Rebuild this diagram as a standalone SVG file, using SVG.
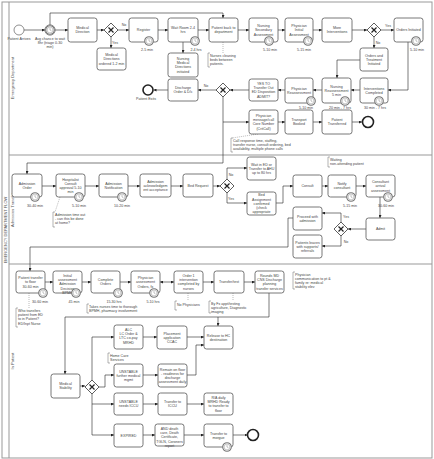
<svg xmlns="http://www.w3.org/2000/svg" width="434" height="459" viewBox="0 0 434 459">
<style>
.tk{fill:#fff;stroke:#555;stroke-width:0.8}
.t{font-family:"Liberation Sans",Arial,sans-serif;font-size:3.6px;fill:#444;text-anchor:middle}
.a{font-family:"Liberation Sans",Arial,sans-serif;font-size:3.6px;fill:#444;text-anchor:start}
.ln{font-family:"Liberation Sans",Arial,sans-serif;font-size:4px;fill:#555;text-anchor:middle}
.c{fill:none;stroke:#222;stroke-width:0.6;marker-end:url(#ar)}
.as{fill:none;stroke:#777;stroke-width:0.5;stroke-dasharray:1,1}
.br{fill:none;stroke:#666;stroke-width:0.5}
.gw{fill:#fff;stroke:#333;stroke-width:0.8}
.gx{stroke:#222;stroke-width:1.2}
.lane{fill:none;stroke:#999;stroke-width:1}
</style>
<defs>
<marker id="ar" viewBox="0 0 6 6" refX="6" refY="3" markerWidth="3" markerHeight="3" orient="auto" markerUnits="userSpaceOnUse"><path d="M0,0L6,3L0,6z" fill="#222"/></marker>
<marker id="as" viewBox="0 0 6 6" refX="0" refY="3" markerWidth="3" markerHeight="3" orient="auto" markerUnits="userSpaceOnUse"><path d="M6,0L0,3L6,6z" fill="#222"/></marker>
<g id="tm"><circle r="4.3" fill="#fff" stroke="#777" stroke-width="1.1"/><circle r="2.9" fill="none" stroke="#777" stroke-width="0.4"/><path d="M0,-2V0L1.4,0.7" fill="none" stroke="#666" stroke-width="0.4"/></g>
</defs>
<rect width="434" height="459" fill="#fff"/>
<g id="pool">
<rect x="2" y="2" width="430" height="456" class="lane"/>
<line x1="9" y1="2" x2="9" y2="458" class="lane"/>
<line x1="9" y1="155" x2="432" y2="155" class="lane"/>
<line x1="9" y1="264" x2="432" y2="264" class="lane"/>
<text class="ln" transform="translate(7,230) rotate(-90)">EMERGENCY DEPARTMENT FLOW</text>
<text class="ln" transform="translate(14,78) rotate(-90)">Emergency Department</text>
<text class="ln" transform="translate(14,210) rotate(-90)">Admission Transfer</text>
<text class="ln" transform="translate(14,361) rotate(-90)">In Patient</text>
</g>
<g id="connectors">
<path class="c" d="M24,30H45"/>
<path class="c" d="M55,30H68"/>
<path class="c" d="M50,25V13H223V18"/>
<path class="c" d="M97,30H104"/>
<path class="c" d="M118,30H129"/>
<path class="c" d="M111,37V48"/>
<path class="c" d="M158,30H168"/>
<path class="c" d="M198,30H209"/>
<path class="c" d="M183,42V53"/>
<path class="c" d="M238,30H249"/>
<path class="c" d="M278,30H285"/>
<path class="c" d="M313,30H322"/>
<path class="c" d="M352,30H367"/>
<path class="c" d="M381,30H394"/>
<path class="c" d="M374,37V48"/>
<path class="c" d="M360,60H337V78"/>
<path class="c" d="M408,42V90H388"/>
<path class="c" d="M360,90H351"/>
<path class="c" d="M322,90H313"/>
<path class="c" d="M285,90H278"/>
<path class="c" d="M249,90H230"/>
<path class="c" d="M216,90H198"/>
<path class="c" d="M168,90H153.5"/>
<path class="c" d="M223,97V122H249"/>
<path class="c" d="M223,122V163H27V174"/>
<path class="c" d="M278,122H285"/>
<path class="c" d="M313,122H322"/>
<path class="c" d="M352,122H362"/>
<path class="c" d="M42,186H56"/>
<path class="c" d="M85,186H99"/>
<path class="c" d="M128,186H140"/>
<path class="c" d="M171,186H183"/>
<path class="c" d="M213,186H220"/>
<path class="c" d="M227,179V168H247"/>
<path class="c" d="M227,193V203H247"/>
<path class="c" d="M276,203H283V186H293"/>
<path class="c" d="M322,186H328"/>
<path class="c" d="M356,186H366"/>
<path class="c" d="M380,197V218"/>
<path class="c" d="M366,229H348"/>
<path class="c" d="M341,222V213H322"/>
<path class="c" d="M341,236V246H322"/>
<path class="c" d="M293,218H288V247H30V271"/>
<path class="c" d="M45,282H53"/>
<path class="c" d="M82,282H91"/>
<path class="c" d="M120,282H131"/>
<path class="c" d="M160,282H174" style="marker-start:url(#as)"/>
<path class="c" d="M203,282H214"/>
<path class="c" d="M244,282H255"/>
<path class="c" d="M269,293V317H65V374"/>
<path class="c" d="M218,317V326"/>
<path class="c" d="M92,380V337H114"/>
<path class="c" d="M143,337H157"/>
<path class="c" d="M187,337H204"/>
<path class="c" d="M80,386H85"/>
<path class="c" d="M99,387H105V375H114"/>
<path class="c" d="M92,394V435H114"/>
<path class="c" d="M92,404H114"/>
<path class="c" d="M143,375H158"/>
<path class="c" d="M187,375H196V345H204"/>
<path class="c" d="M143,404H158"/>
<path class="c" d="M187,404H204"/>
<path class="c" d="M143,435H155"/>
<path class="c" d="M184,435H204"/>
<path class="c" d="M233,435H247.5"/>
<path class="as" d="M223,42V53"/>
<path class="as" d="M60,197L55,212"/>
<path class="as" d="M29,293V308"/>
<path class="as" d="M188,293V301"/>
<path class="as" d="M233,293V301"/>
<path class="as" d="M258,134L232,138"/>
<text class="t" x="124" y="26">No</text>
<text class="t" x="115" y="44">Yes</text>
<text class="t" x="388" y="27">Yes</text>
<text class="t" x="378" y="44">No</text>
<text class="t" x="206" y="87">No</text>
<text class="t" x="231" y="176">No</text>
<text class="t" x="231" y="200">Yes</text>
<text class="t" x="346" y="218">Yes</text>
<text class="t" x="346" y="243">No</text>
</g>
<g id="patient-arrives"><circle cx="19" cy="30" r="5" fill="#fff" stroke="#444" stroke-width="0.6"/><text class="t" x="19" y="39.5">Patient Arrives</text></g>
<g id="wait-timer"><circle cx="50" cy="30" r="5.2" fill="#fff" stroke="#444" stroke-width="0.6"/><use href="#tm" x="50" y="30"/><text class="t" x="50" y="39.5"><tspan x="50">Avg chance to wait</tspan><tspan x="50" dy="4">8hr (triage 0-30</tspan><tspan x="50" dy="4">min)</tspan></text></g>
<g id="medical-direction"><rect class="tk" x="68" y="18" width="29" height="24" rx="2.5"/><text class="t" x="82.5" y="29.2"><tspan x="82.5">Medical</tspan><tspan x="82.5" dy="4.2">Direction</tspan></text></g>
<g id="gw1"><polygon class="gw" points="111,23 118,30 111,37 104,30"/><path class="gx" d="M108.5,27.5l5,5M113.5,27.5l-5,5"/></g>
<g id="md-ordered"><rect class="tk" x="97" y="48" width="29" height="22" rx="2.5"/><text class="t" x="111.5" y="56.1"><tspan x="111.5">Medical</tspan><tspan x="111.5" dy="4.2">Directions</tspan><tspan x="111.5" dy="4.2">ordered 1-2 min</tspan></text></g>
<g id="register"><rect class="tk" x="129" y="18" width="29" height="24" rx="2.5"/><text class="t" x="143.5" y="31.3">Register</text><use href="#tm" x="149" y="41"/><text class="t" x="147" y="50.5">2-5 min</text></g>
<g id="wait-room"><rect class="tk" x="168" y="18" width="30" height="24" rx="2.5"/><text class="t" x="183" y="29.2"><tspan x="183">Wait Room 2-4</tspan><tspan x="183" dy="4.2">hrs</tspan></text><use href="#tm" x="195" y="41"/><text class="t" x="196" y="50.5">2-4 hrs</text></g>
<g id="patient-back"><rect class="tk" x="209" y="18" width="29" height="24" rx="2.5"/><text class="t" x="223.5" y="29.2"><tspan x="223.5">Patient back to</tspan><tspan x="223.5" dy="4.2">department</tspan></text></g>
<g id="nursing-secondary"><rect class="tk" x="249" y="18" width="29" height="24" rx="2.5"/><text class="t" x="263.5" y="27.1"><tspan x="263.5">Nursing</tspan><tspan x="263.5" dy="4.2">Secondary</tspan><tspan x="263.5" dy="4.2">Assessment</tspan></text><use href="#tm" x="269" y="41"/><text class="t" x="270" y="50.5">5-10 min</text></g>
<g id="physician-initial"><rect class="tk" x="285" y="18" width="28" height="24" rx="2.5"/><text class="t" x="299" y="27.1"><tspan x="299">Physician</tspan><tspan x="299" dy="4.2">Initial</tspan><tspan x="299" dy="4.2">Assessment</tspan></text><use href="#tm" x="308" y="41"/><text class="t" x="304" y="50.5">5-15 min</text></g>
<g id="more-interventions"><rect class="tk" x="322" y="18" width="30" height="24" rx="2.5"/><text class="t" x="337" y="29.2"><tspan x="337">More</tspan><tspan x="337" dy="4.2">Interventions</tspan></text></g>
<g id="gw2"><polygon class="gw" points="374,23 381,30 374,37 367,30"/><path class="gx" d="M371.5,27.5l5,5M376.5,27.5l-5,5"/></g>
<g id="orders-initiated"><rect class="tk" x="394" y="18" width="29" height="24" rx="2.5"/><text class="t" x="408.5" y="31.3">Orders Initiated</text><use href="#tm" x="416" y="41"/><text class="t" x="417" y="50.5">5-10 min</text></g>
<g id="orders-treatment"><rect class="tk" x="360" y="48" width="28" height="23" rx="2.5"/><text class="t" x="374" y="56.6"><tspan x="374">Orders and</tspan><tspan x="374" dy="4.2">Treatment</tspan><tspan x="374" dy="4.2">Initiated</tspan></text></g>
<g id="interventions-completed"><rect class="tk" x="360" y="78" width="28" height="25" rx="2.5"/><text class="t" x="374" y="89.7"><tspan x="374">Interventions</tspan><tspan x="374" dy="4.2">Completed</tspan></text><use href="#tm" x="379" y="101"/><text class="t" x="375" y="109">30 min - 7 hrs</text></g>
<g id="nursing-reassessment"><rect class="tk" x="322" y="78" width="29" height="25" rx="2.5"/><text class="t" x="336.5" y="87.6"><tspan x="336.5">Nursing</tspan><tspan x="336.5" dy="4.2">Reassessment</tspan><tspan x="336.5" dy="4.2">5 min</tspan></text><use href="#tm" x="345" y="101"/><text class="t" x="340" y="109">20 min - 7 hrs</text></g>
<g id="physician-reassessment"><rect class="tk" x="285" y="78" width="28" height="25" rx="2.5"/><text class="t" x="299" y="89.7"><tspan x="299">Physician</tspan><tspan x="299" dy="4.2">Reassessment</tspan></text><use href="#tm" x="311" y="101"/><text class="t" x="306" y="109">5-10 min</text></g>
<g id="yes-to-transfer"><rect class="tk" x="249" y="79" width="29" height="22" rx="2.5"/><text class="t" x="263.5" y="85"><tspan x="263.5">YES TO</tspan><tspan x="263.5" dy="4.2">Transfer Out</tspan><tspan x="263.5" dy="4.2">ED Disposition</tspan><tspan x="263.5" dy="4.2">ADMIT?</tspan></text></g>
<g id="gw3"><polygon class="gw" points="223,83 230,90 223,97 216,90"/><path class="gx" d="M220.5,87.5l5,5M225.5,87.5l-5,5"/></g>
<g id="discharge"><rect class="tk" x="168" y="79" width="30" height="22" rx="2.5"/><text class="t" x="183" y="89.2"><tspan x="183">Discharge</tspan><tspan x="183" dy="4.2">Order &amp; D/c</tspan></text></g>
<g id="patient-exits"><circle cx="148" cy="90" r="5" fill="#fff" stroke="#222" stroke-width="1.6"/><text class="t" x="146" y="100">Patient Exits</text></g>
<g id="nursing-md"><rect class="tk" x="168" y="53" width="30" height="24" rx="2.5"/><text class="t" x="183" y="60"><tspan x="183">Nursing</tspan><tspan x="183" dy="4.2">Medical</tspan><tspan x="183" dy="4.2">Directions</tspan><tspan x="183" dy="4.2">initiated</tspan></text></g>
<g id="note-cleaning"><path class="br" d="M210,53H208V67H210"/><text class="a" x="210" y="57"><tspan x="210">Nurses cleaning</tspan><tspan x="210" dy="4.2">beds between</tspan><tspan x="210" dy="4.2">patients.</tspan></text></g>
<g id="physician-message"><rect class="tk" x="249" y="110" width="29" height="24" rx="2.5"/><text class="t" x="263.5" y="117"><tspan x="263.5">Physician</tspan><tspan x="263.5" dy="4.2">message/call</tspan><tspan x="263.5" dy="4.2">Core Number</tspan><tspan x="263.5" dy="4.2">(CritCall)</tspan></text></g>
<g id="transport-booked"><rect class="tk" x="285" y="110" width="28" height="24" rx="2.5"/><text class="t" x="299" y="121.2"><tspan x="299">Transport</tspan><tspan x="299" dy="4.2">Booked</tspan></text></g>
<g id="patient-transferred"><rect class="tk" x="322" y="110" width="30" height="24" rx="2.5"/><text class="t" x="337" y="121.2"><tspan x="337">Patient</tspan><tspan x="337" dy="4.2">Transferred</tspan></text></g>
<g id="end-transferred"><circle cx="368" cy="122" r="5.5" fill="#fff" stroke="#222" stroke-width="1.6"/></g>
<g id="note-call"><path class="br" d="M233,138H231V152H233"/><text class="a" x="233" y="141.5"><tspan x="233">Call response time, staffing,</tspan><tspan x="233" dy="4.2">transfer nurse, consult ordering, bed</tspan><tspan x="233" dy="4.2">availability, multiple phone calls</tspan></text></g>
<g id="admission-order"><rect class="tk" x="12" y="174" width="30" height="23" rx="2.5"/><text class="t" x="27" y="184.7"><tspan x="27">Admission</tspan><tspan x="27" dy="4.2">Order</tspan></text><use href="#tm" x="35" y="197"/><text class="t" x="35" y="207">30-40 min</text></g>
<g id="admission-consult"><rect class="tk" x="56" y="174" width="29" height="23" rx="2.5"/><text class="t" x="70.5" y="180.5"><tspan x="70.5">Hospitalist</tspan><tspan x="70.5" dy="4.2">Consult</tspan><tspan x="70.5" dy="4.2">approval 5-10</tspan><tspan x="70.5" dy="4.2">min</tspan></text><use href="#tm" x="79" y="197"/><text class="t" x="79" y="207">5-10 min</text></g>
<g id="note-timeout"><path class="br" d="M55,212H53V227H55"/><text class="a" x="55" y="216"><tspan x="55">Admission time out</tspan><tspan x="55" dy="4.2">- can this be done</tspan><tspan x="55" dy="4.2">at home?</tspan></text></g>
<g id="admission-notification"><rect class="tk" x="99" y="174" width="29" height="23" rx="2.5"/><text class="t" x="113.5" y="184.7"><tspan x="113.5">Admission</tspan><tspan x="113.5" dy="4.2">Notification</tspan></text><use href="#tm" x="122" y="197"/><text class="t" x="122" y="207">10-20 min</text></g>
<g id="admission-ack"><rect class="tk" x="140" y="174" width="31" height="23" rx="2.5"/><text class="t" x="155.5" y="182.6"><tspan x="155.5">Admission</tspan><tspan x="155.5" dy="4.2">acknowledgem</tspan><tspan x="155.5" dy="4.2">ent acceptance</tspan></text></g>
<g id="bed-request"><rect class="tk" x="183" y="174" width="30" height="23" rx="2.5"/><text class="t" x="198" y="186.8">Bed Request</text></g>
<g id="gw4"><polygon class="gw" points="227,179 234,186 227,193 220,186"/><path class="gx" d="M224.5,183.5l5,5M229.5,183.5l-5,5"/></g>
<g id="wait-ed"><rect class="tk" x="247" y="157" width="29" height="23" rx="2.5"/><text class="t" x="261.5" y="165.6"><tspan x="261.5">Wait in ED or</tspan><tspan x="261.5" dy="4.2">Transfer to AHU</tspan><tspan x="261.5" dy="4.2">up to 80 hrs</tspan></text></g>
<g id="bed-assignment"><rect class="tk" x="247" y="192" width="29" height="23" rx="2.5"/><text class="t" x="261.5" y="196.4"><tspan x="261.5">Bed</tspan><tspan x="261.5" dy="4.2">Assignment</tspan><tspan x="261.5" dy="4.2">confirmed</tspan><tspan x="261.5" dy="4.2">(check</tspan><tspan x="261.5" dy="4.2">appropriate</tspan></text></g>
<g id="consult"><rect class="tk" x="293" y="175" width="29" height="22" rx="2.5"/><text class="t" x="307.5" y="187.3">Consult</text></g>
<g id="notify-consultant"><rect class="tk" x="328" y="175" width="28" height="22" rx="2.5"/><text class="t" x="342" y="185.2"><tspan x="342">Notify</tspan><tspan x="342" dy="4.2">consultant</tspan></text><use href="#tm" x="351" y="197"/><text class="t" x="350" y="207">5-15 min</text></g>
<g id="note-waiting"><path class="br" d="M330,157H328V167H330"/><text class="a" x="330" y="161"><tspan x="330">Waiting</tspan><tspan x="330" dy="4.2">non-attending patient</tspan></text></g>
<g id="consultant-arrival"><rect class="tk" x="366" y="175" width="29" height="22" rx="2.5"/><text class="t" x="380.5" y="183.1"><tspan x="380.5">Consultant</tspan><tspan x="380.5" dy="4.2">arrival</tspan><tspan x="380.5" dy="4.2">assessment</tspan></text><use href="#tm" x="388" y="197"/><text class="t" x="386" y="207">30-60 min</text></g>
<g id="admit"><rect class="tk" x="366" y="218" width="29" height="22" rx="2.5"/><text class="t" x="380.5" y="230.3">Admit</text></g>
<g id="gw5"><polygon class="gw" points="341,222 348,229 341,236 334,229"/><path class="gx" d="M338.5,226.5l5,5M343.5,226.5l-5,5"/></g>
<g id="proceed-admission"><rect class="tk" x="293" y="207" width="29" height="23" rx="2.5"/><text class="t" x="307.5" y="217.7"><tspan x="307.5">Proceed with</tspan><tspan x="307.5" dy="4.2">admission</tspan></text></g>
<g id="patient-leaves"><rect class="tk" x="293" y="235" width="29" height="23" rx="2.5"/><text class="t" x="307.5" y="243.6"><tspan x="307.5">Patients leaves</tspan><tspan x="307.5" dy="4.2">with supports/</tspan><tspan x="307.5" dy="4.2">referrals</tspan></text></g>
<g id="transfer-floor"><rect class="tk" x="16" y="271" width="29" height="22" rx="2.5"/><text class="t" x="30.5" y="279.1"><tspan x="30.5">Patient transfer</tspan><tspan x="30.5" dy="4.2">to floor</tspan><tspan x="30.5" dy="4.2">30-60 min</tspan></text><use href="#tm" x="43" y="293"/><text class="t" x="40" y="303">30-60 min</text></g>
<g id="note-who"><path class="br" d="M18,308H16V327H18"/><text class="a" x="18" y="312"><tspan x="18">Who transfers</tspan><tspan x="18" dy="4.2">patient from ED</tspan><tspan x="18" dy="4.2">to in Patient?</tspan><tspan x="18" dy="4.2">ED/Inpt Nurse</tspan></text></g>
<g id="initial-assessment"><rect class="tk" x="53" y="271" width="29" height="22" rx="2.5"/><text class="t" x="67.5" y="277"><tspan x="67.5">Initial</tspan><tspan x="67.5" dy="4.2">assessment</tspan><tspan x="67.5" dy="4.2">Admission</tspan><tspan x="67.5" dy="4.2">Decision</tspan><tspan x="67.5" dy="4.2">BPMH</tspan></text><use href="#tm" x="76" y="293"/><text class="t" x="74" y="303">45 min</text></g>
<g id="complete-orders"><rect class="tk" x="91" y="271" width="29" height="22" rx="2.5"/><text class="t" x="105.5" y="281.2"><tspan x="105.5">Complete</tspan><tspan x="105.5" dy="4.2">Orders</tspan></text><use href="#tm" x="118" y="293"/><text class="t" x="114" y="303">15-30 hrs</text></g>
<g id="note-takes"><path class="br" d="M89,304H87V313H89"/><text class="a" x="89" y="307.5"><tspan x="89">Takes nurses time to thorough</tspan><tspan x="89" dy="4.2">BPMH, pharmacy involvement</tspan></text></g>
<g id="physician-assessment"><rect class="tk" x="131" y="271" width="29" height="22" rx="2.5"/><text class="t" x="145.5" y="279.1"><tspan x="145.5">Physician</tspan><tspan x="145.5" dy="4.2">assessment</tspan><tspan x="145.5" dy="4.2">Orders, fx</tspan></text><use href="#tm" x="154" y="293"/><text class="t" x="153" y="303">5-10 hrs</text></g>
<g id="order-intervention"><rect class="tk" x="174" y="271" width="29" height="22" rx="2.5"/><text class="t" x="188.5" y="277"><tspan x="188.5">Order 1</tspan><tspan x="188.5" dy="4.2">intervention</tspan><tspan x="188.5" dy="4.2">completed by</tspan><tspan x="188.5" dy="4.2">nurses</tspan></text></g>
<g id="note-nophys"><path class="br" d="M177,301H175V310H177"/><text class="a" x="177" y="305.5">No Physicians</text></g>
<g id="transfer-test"><rect class="tk" x="214" y="271" width="30" height="22" rx="2.5"/><text class="t" x="229" y="283.3">Transfer/test</text></g>
<g id="note-byfx"><path class="br" d="M211,301H209V313H211"/><text class="a" x="211" y="304.5"><tspan x="211">By Fx appt/testing</tspan><tspan x="211" dy="4.2">agriculture, Diagnostic</tspan><tspan x="211" dy="4.2">imaging</tspan></text></g>
<g id="rounds"><rect class="tk" x="255" y="271" width="29" height="22" rx="2.5"/><text class="t" x="269.5" y="277"><tspan x="269.5">Rounds MD</tspan><tspan x="269.5" dy="4.2">CNS Discharge</tspan><tspan x="269.5" dy="4.2">planning</tspan><tspan x="269.5" dy="4.2">transfer services</tspan></text></g>
<g id="note-physcomm"><path class="br" d="M295,272H293V289H295"/><text class="a" x="295" y="275.5"><tspan x="295">Physician</tspan><tspan x="295" dy="4.2">communication to pt &amp;</tspan><tspan x="295" dy="4.2">family re: medical</tspan><tspan x="295" dy="4.2">stability elev</tspan></text></g>
<g id="alc"><rect class="tk" x="114" y="325" width="29" height="24" rx="2.5"/><text class="t" x="128.5" y="331"><tspan x="128.5">ALC</tspan><tspan x="128.5" dy="4.2">LC Order &amp;</tspan><tspan x="128.5" dy="4.2">LTC co-pay</tspan><tspan x="128.5" dy="4.2">MRHD</tspan></text></g>
<g id="alc-next"><rect class="tk" x="157" y="326" width="30" height="23" rx="2.5"/><text class="t" x="172" y="334.6"><tspan x="172">Placement</tspan><tspan x="172" dy="4.2">application</tspan><tspan x="172" dy="4.2">CCAC</tspan></text></g>
<g id="release-hc"><rect class="tk" x="204" y="326" width="29" height="23" rx="2.5"/><text class="t" x="218.5" y="336.7"><tspan x="218.5">Release to HC</tspan><tspan x="218.5" dy="4.2">destination</tspan></text></g>
<g id="note-homecare"><path class="br" d="M110,353H108V363H110"/><text class="a" x="110" y="357"><tspan x="110">Home Care</tspan><tspan x="110" dy="4.2">Services</tspan></text></g>
<g id="medical-stability"><rect class="tk" x="51" y="374" width="29" height="24" rx="2.5"/><text class="t" x="65.5" y="385.2"><tspan x="65.5">Medical</tspan><tspan x="65.5" dy="4.2">Stability</tspan></text></g>
<g id="gw6"><polygon class="gw" points="92,380 99,387 92,394 85,387"/><path class="gx" d="M89.5,384.5l5,5M94.5,384.5l-5,5"/></g>
<g id="unstable-further"><rect class="tk" x="114" y="364" width="29" height="23" rx="2.5"/><text class="t" x="128.5" y="372.6"><tspan x="128.5">UNSTABLE</tspan><tspan x="128.5" dy="4.2">further medical</tspan><tspan x="128.5" dy="4.2">mgmt</tspan></text></g>
<g id="unstable-iccu"><rect class="tk" x="114" y="393" width="29" height="22" rx="2.5"/><text class="t" x="128.5" y="403.2"><tspan x="128.5">UNSTABLE</tspan><tspan x="128.5" dy="4.2">needs ICCU</tspan></text></g>
<g id="expired"><rect class="tk" x="114" y="424" width="29" height="23" rx="2.5"/><text class="t" x="128.5" y="436.8">EXPIRED</text></g>
<g id="remain-floor"><rect class="tk" x="158" y="364" width="29" height="23" rx="2.5"/><text class="t" x="172.5" y="370.5"><tspan x="172.5">Remain on floor</tspan><tspan x="172.5" dy="4.2">- readiness for</tspan><tspan x="172.5" dy="4.2">discharge</tspan><tspan x="172.5" dy="4.2">assessment daily</tspan></text></g>
<g id="transfer-iccu"><rect class="tk" x="158" y="393" width="29" height="22" rx="2.5"/><text class="t" x="172.5" y="403.2"><tspan x="172.5">Transfer to</tspan><tspan x="172.5" dy="4.2">ICCU</tspan></text></g>
<g id="ra-daily"><rect class="tk" x="204" y="393" width="29" height="22" rx="2.5"/><text class="t" x="218.5" y="399"><tspan x="218.5">R/A daily</tspan><tspan x="218.5" dy="4.2">MRHD Ready</tspan><tspan x="218.5" dy="4.2">to transfer to</tspan><tspan x="218.5" dy="4.2">floor</tspan></text></g>
<g id="death-care"><rect class="tk" x="155" y="424" width="29" height="22" rx="2.5"/><text class="t" x="169.5" y="430"><tspan x="169.5">AND death</tspan><tspan x="169.5" dy="4.2">care, Death</tspan><tspan x="169.5" dy="4.2">Certificate,</tspan><tspan x="169.5" dy="4.2">TGLN, Coroners</tspan><tspan x="169.5" dy="4.2">report</tspan></text></g>
<g id="transfer-morgue"><rect class="tk" x="204" y="424" width="29" height="23" rx="2.5"/><text class="t" x="218.5" y="434.7"><tspan x="218.5">Transfer to</tspan><tspan x="218.5" dy="4.2">morgue</tspan></text><use href="#tm" x="227" y="447"/></g>
<g id="end-morgue"><circle cx="253" cy="435" r="5.5" fill="#fff" stroke="#222" stroke-width="1.6"/></g>
</svg>
